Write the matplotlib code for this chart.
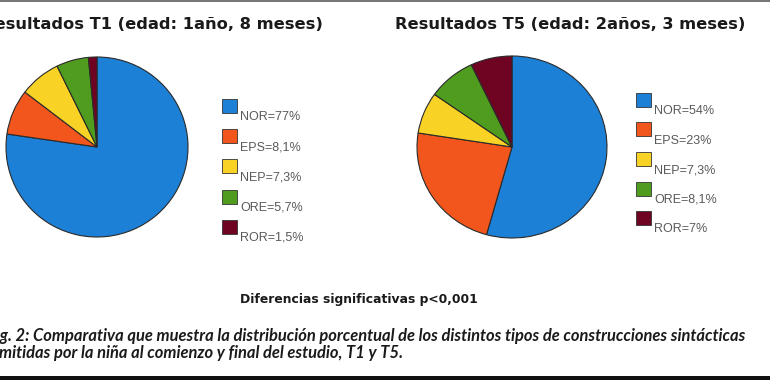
import matplotlib
matplotlib.use("Agg")
import matplotlib.pyplot as plt
from matplotlib.patches import Rectangle

W, H = 770, 380

categories = ["NOR", "EPS", "NEP", "ORE", "ROR"]
t1_values = [77, 8.1, 7.3, 5.7, 1.5]
t5_values = [54, 23, 7.3, 8.1, 7]
t1_labels = ["NOR=77%", "EPS=8,1%", "NEP=7,3%", "ORE=5,7%", "ROR=1,5%"]
t5_labels = ["NOR=54%", "EPS=23%", "NEP=7,3%", "ORE=8,1%", "ROR=7%"]
colors = ["#1c80d6", "#f2561c", "#f8d326", "#4f9c1e", "#6e0322"]

title_t1 = "Resultados T1 (edad: 1año, 8 meses)"
title_t5 = "Resultados T5 (edad: 2años, 3 meses)"
footer = "Diferencias significativas p<0,001"
caption1 = "Fig. 2: Comparativa que muestra la distribución porcentual de los distintos tipos de construcciones sintácticas"
caption2 = "emitidas por la niña al comienzo y final del estudio, T1 y T5."

fig = plt.figure(figsize=(W / 100, H / 100), dpi=100)
fig.patch.set_facecolor("white")


def fx(x):
    return x / W


def fy(y):
    return 1 - y / H


def pie_axes(cx, cy, rx, ry):
    ax = fig.add_axes([fx(cx - rx), fy(cy + ry), 2 * rx / W, 2 * ry / H])
    ax.axis("off")
    return ax


def draw_pie(ax, values):
    ax.pie(values, colors=colors, startangle=90, counterclock=False, radius=1,
           normalize=True, wedgeprops=dict(edgecolor="#2a2a2a", linewidth=0.8))
    ax.set_xlim(-1, 1)
    ax.set_ylim(-1, 1)
    ax.set_aspect("auto")


ax1 = pie_axes(97, 147, 91, 90)
draw_pie(ax1, t1_values)
ax2 = pie_axes(512, 147, 95, 91)
draw_pie(ax2, t5_values)


def legend(x0, y0, step, labels):
    for i, (lab, col) in enumerate(zip(labels, colors)):
        top = y0 + i * step
        fig.patches.append(Rectangle((fx(x0), fy(top + 14)), 15 / W, 14 / H,
                                     transform=fig.transFigure, facecolor=col,
                                     edgecolor="#333333", linewidth=0.6))
        fig.text(fx(x0 + 18), fy(top + 18), lab, fontsize=9,
                 family="Liberation Sans", color="#5a5a5a",
                 ha="left", va="center")


legend(222, 99, 30.2, t1_labels)
legend(636, 93, 29.5, t5_labels)

fig.text(fx(323), fy(29), title_t1, fontsize=11.7, fontweight="bold",
         family="DejaVu Sans", color="#1a1a1a", ha="right", va="baseline")
fig.text(fx(570.5), fy(29), title_t5, fontsize=11.7, fontweight="bold",
         family="DejaVu Sans", color="#1a1a1a", ha="center", va="baseline")

fig.text(fx(358.5), fy(303), footer, fontsize=8.9, fontweight="bold",
         family="DejaVu Sans", color="#1a1a1a", ha="center", va="baseline")

fig.text(fx(745), fy(341), caption1, fontsize=11.9, fontweight="bold",
         style="italic", family="Lato", color="#1a1a1a", ha="right", va="baseline")
fig.text(fx(-9), fy(358), caption2, fontsize=11.9, fontweight="bold",
         style="italic", family="Lato", color="#1a1a1a", ha="left", va="baseline")

fig.patches.append(Rectangle((0, fy(1.5)), 1, 1.5 / H, transform=fig.transFigure,
                             facecolor="#777777", edgecolor="none"))
fig.patches.append(Rectangle((0, 0), 1, 4 / H, transform=fig.transFigure,
                             facecolor="#111111", edgecolor="none"))

fig.savefig("out.png", dpi=100, facecolor="white")
